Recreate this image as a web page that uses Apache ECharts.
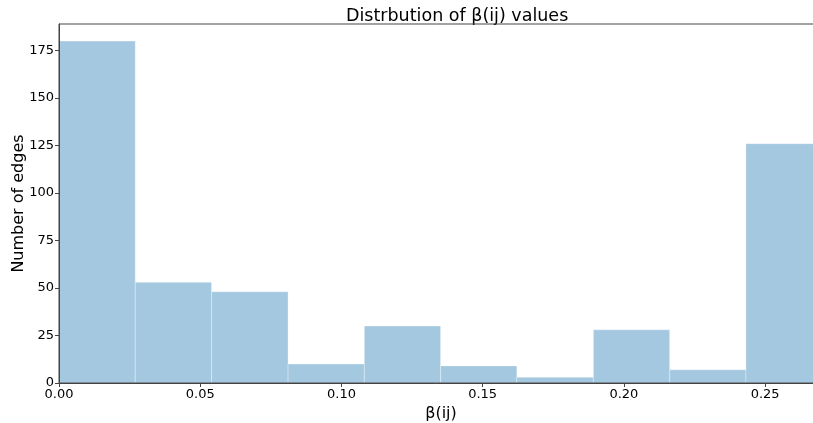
<!DOCTYPE html>
<html>
<head>
<meta charset="utf-8">
<script src="https://cdn.jsdelivr.net/npm/echarts@6/dist/echarts.min.js"></script>
<style>
html,body{margin:0;padding:0;background:#fff;}
#chart{width:813px;height:423px;}
</style>
</head>
<body>
<div id="chart"></div>
<script>
// Histogram bin edges (β(ij) values) and counts per bin
var binEdges = [0, 0.0270, 0.0540, 0.0811, 0.1081, 0.1351, 0.1621, 0.1892, 0.2162, 0.2432, 0.2702];
var counts = [180, 53, 48, 10, 30, 9, 3, 28, 7, 126];
var xTicks = [0, 0.05, 0.10, 0.15, 0.20, 0.25];
var yTicks = [0, 25, 50, 75, 100, 125, 150, 175];

var barData = [];
for (var i = 0; i < counts.length; i++) {
  barData.push([binEdges[i], binEdges[i + 1], counts[i]]);
}

var font = 'DejaVu Sans';
var chart = echarts.init(document.getElementById('chart'), null, {renderer: 'canvas'});
chart.setOption({
  animation: false,
  backgroundColor: '#fff',
  title: {
    text: 'Distrbution of β(ij) values',
    left: 341, top: 2,
    textStyle: {fontFamily: font, fontSize: 17.5, fontWeight: 'normal', color: '#000'}
  },
  grid: {
    left: 59, top: 24, right: -36, bottom: 40,
    outerBoundsMode: 'none', z: 10,
    show: true, borderColor: '#444', borderWidth: 1, backgroundColor: 'transparent',
    containLabel: false
  },
  xAxis: {
    type: 'value', min: 0, max: 0.2797, z: 10,
    name: 'β(ij)', nameLocation: 'middle', nameGap: 20,
    nameTextStyle: {fontFamily: font, fontSize: 16, color: '#000', padding: [0, 26, 0, 0]},
    axisLine: {show: true, lineStyle: {color: '#444', width: 1}},
    axisTick: {show: true, length: 4, lineStyle: {color: '#444'}, customValues: xTicks},
    axisLabel: {
      fontFamily: font, fontSize: 13, color: '#000', margin: 5,
      customValues: xTicks,
      formatter: function (v) { return v.toFixed(2); }
    },
    splitLine: {show: false}
  },
  yAxis: {
    type: 'value', min: 0, max: 189, z: 10,
    name: 'Number of edges', nameLocation: 'middle', nameGap: 32, nameRotate: 90,
    nameMoveOverlap: false,
    nameTextStyle: {fontFamily: font, fontSize: 16, color: '#000'},
    axisLine: {show: true, lineStyle: {color: '#444', width: 1}},
    axisTick: {show: true, length: 4, lineStyle: {color: '#444'}, customValues: yTicks},
    axisLabel: {fontFamily: font, fontSize: 13, color: '#000', margin: 5, customValues: yTicks},
    splitLine: {show: false}
  },
  series: [{
    type: 'custom',
    clip: true,
    z: 1,
    data: barData,
    encode: {x: [0, 1], y: 2},
    renderItem: function (params, api) {
      var p0 = api.coord([api.value(0), 0]);
      var p1 = api.coord([api.value(1), api.value(2)]);
      return {
        type: 'rect',
        shape: {x: p0[0], y: p1[1], width: p1[0] - p0[0], height: p0[1] - p1[1]},
        style: {fill: '#a5c8e1', stroke: 'rgba(255,255,255,0.3)', lineWidth: 1}
      };
    }
  }]
});
</script>
</body>
</html>
